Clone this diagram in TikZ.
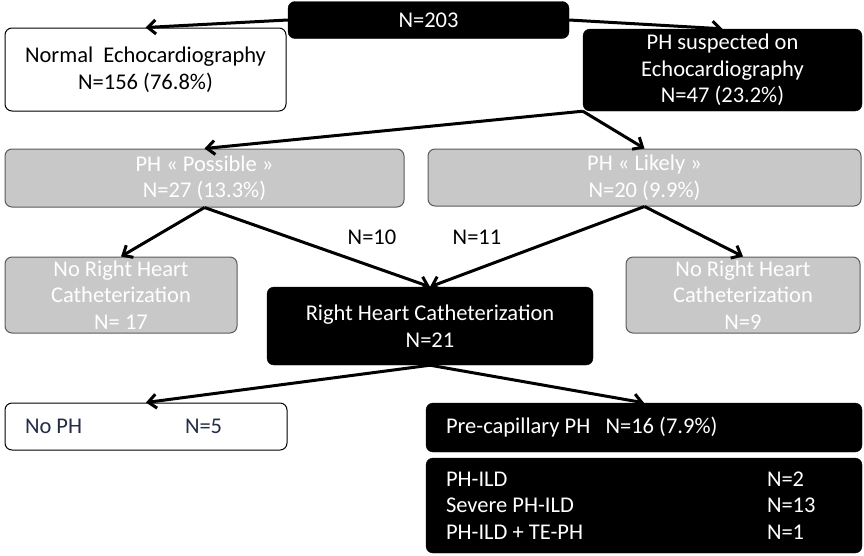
\documentclass[tikz,border=0pt]{standalone}
\usepackage{fontspec}
\setmainfont{Carlito}
\usepackage{tikz}
\usetikzlibrary{arrows.meta, positioning}
\definecolor{boxgray}{RGB}{200, 200, 200}
\definecolor{rimgray}{RGB}{90, 90, 90}
\definecolor{navytext}{RGB}{35, 45, 70}

\begin{document}
\begin{tikzpicture}[
  x=1pt, y=-1pt,
  every node/.style={font=\fontsize{22.5}{26.5}\selectfont, inner sep=0pt, align=center},
  darkbox/.style={draw=black, fill=black, text=white, rounded corners=7pt},
  whitebox/.style={draw=black, line width=1pt, fill=white, rounded corners=7pt},
  graybox/.style={draw=rimgray, line width=1pt, fill=boxgray, text=white, rounded corners=7pt},
  ar/.style={-{Straight Barb[length=8pt, width=14pt, line width=3pt]}, line width=3pt}
]
\useasboundingbox (0,0) rectangle (864,555);
% top level
\node[darkbox, minimum width=281, minimum height=37] (total) at (428.5,20) {N=203};
\node[whitebox, minimum width=281, minimum height=83] (normal) at (145.5,69.5)
  {Normal~~Echocardiography\\N=156 (76.8\%)};
\node[darkbox, minimum width=279, minimum height=82] (susp) at (722.5,70)
  {PH suspected on\\Echocardiography\\N=47 (23.2\%)};
% echo categories
\node[graybox, minimum width=399, minimum height=58] (possible) at (204.5,178)
  {PH « Possible »\\N=27 (13.3\%)};
\node[graybox, minimum width=433, minimum height=57] (likely) at (644.5,177.5)
  {PH « Likely »\\N=20 (9.9\%)};
% catheterization
\node[graybox, minimum width=232, minimum height=76] (norhcl) at (121,295)
  {No Right Heart\\Catheterization\\N= 17};
\node[graybox, minimum width=234, minimum height=76] (norhcr) at (743,295)
  {No Right Heart\\Catheterization\\N=9};
\node[darkbox, minimum width=326, minimum height=78] (rhc) at (430,326)
  {Right Heart Catheterization\\N=21};
\node (lbl10) at (372,237) {N=10};
\node (lbl11) at (477,237) {N=11};
% outcome
\node[whitebox, minimum width=282, minimum height=47, text=navytext] (noph) at (146,426.5)
  {\makebox[242pt][l]{\makebox[160pt][l]{No PH}N=5}};
\node[darkbox, minimum width=436, minimum height=49] (precap) at (644,427.5)
  {\makebox[396pt][l]{Pre-capillary PH~~~N=16 (7.9\%)}};
\node[darkbox, minimum width=436, minimum height=95, align=left] (subtype) at (644,505.5)
  {\makebox[396pt][l]{\makebox[321pt][l]{PH-ILD}N=2}\\
   \makebox[396pt][l]{\makebox[321pt][l]{Severe PH-ILD}N=13}\\
   \makebox[396pt][l]{\makebox[321pt][l]{PH-ILD + TE-PH}N=1}};
% connectors
\draw[ar] (total.west) -- (normal.north);
\draw[ar] (total.east) -- (susp.north);
\draw[ar] (susp.south west) -- (possible.north);
\draw[ar] (susp.south west) -- (likely.north);
\draw[ar] (possible.south) -- (norhcl.north);
\draw[ar] (possible.south) -- (rhc.north);
\draw[ar] (likely.south) -- (rhc.north);
\draw[ar] (likely.south) -- (norhcr.north);
\draw[ar] (rhc.south) -- (noph.north);
\draw[ar] (rhc.south) -- (precap.north);
\end{tikzpicture}
\end{document}
